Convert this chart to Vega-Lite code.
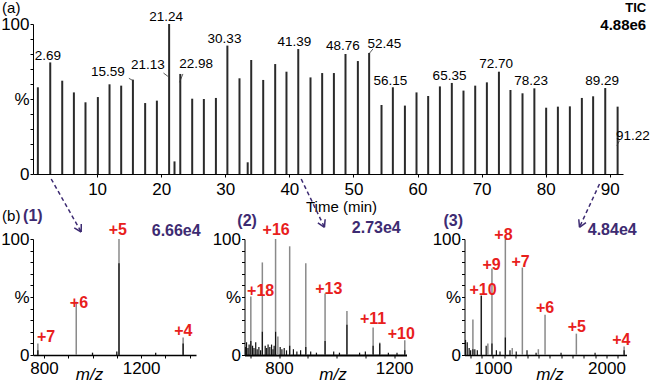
{
  "$schema": "https://vega.github.io/schema/vega-lite/v6.json",
  "padding": 0,
  "autosize": {"type": "pad"},
  "background": "white",
  "config": {
    "font": "Liberation Sans",
    "view": {"stroke": null},
    "axis": {"domainColor": "black", "tickColor": "black", "labelColor": "black", "titleColor": "black", "grid": false, "labelFont": "Liberation Sans", "titleFont": "Liberation Sans", "labelFlush": false, "labelBound": false}
  },
  "datasets": {
    "tic": [
      {"t": 0.76, "y": 57.8}, {"t": 2.69, "y": 74.4}, {"t": 4.56, "y": 62.2}, {"t": 6.38, "y": 54.4},
      {"t": 8.19, "y": 47.8}, {"t": 10.12, "y": 51.3}, {"t": 11.94, "y": 59.8}, {"t": 13.76, "y": 58.9},
      {"t": 15.59, "y": 62.9}, {"t": 17.5, "y": 47.3}, {"t": 19.33, "y": 48.9}, {"t": 21.24, "y": 100},
      {"t": 22.08, "y": 8.4}, {"t": 22.98, "y": 66.7}, {"t": 24.84, "y": 50.2}, {"t": 26.66, "y": 50.0},
      {"t": 28.54, "y": 50.7}, {"t": 30.33, "y": 85.6}, {"t": 32.22, "y": 63.8}, {"t": 33.5, "y": 7.8},
      {"t": 34.05, "y": 76.0}, {"t": 35.92, "y": 62.7}, {"t": 37.79, "y": 73.3}, {"t": 39.55, "y": 68.2},
      {"t": 41.39, "y": 83.3}, {"t": 43.3, "y": 64.4}, {"t": 45.12, "y": 67.3}, {"t": 46.95, "y": 67.3},
      {"t": 48.76, "y": 80.0}, {"t": 50.69, "y": 75.3}, {"t": 52.45, "y": 80.7}, {"t": 54.38, "y": 46.0},
      {"t": 56.15, "y": 57.8}, {"t": 58.03, "y": 45.6}, {"t": 59.84, "y": 54.4}, {"t": 61.66, "y": 52.0},
      {"t": 63.49, "y": 58.4}, {"t": 65.35, "y": 60.7}, {"t": 67.17, "y": 55.6}, {"t": 69.0, "y": 58.9},
      {"t": 70.82, "y": 61.1}, {"t": 72.7, "y": 68.2}, {"t": 74.5, "y": 56.0}, {"t": 76.38, "y": 53.8},
      {"t": 78.23, "y": 57.1}, {"t": 80.07, "y": 44.2}, {"t": 81.9, "y": 44.9}, {"t": 83.77, "y": 45.1},
      {"t": 85.64, "y": 50.7}, {"t": 87.4, "y": 51.8}, {"t": 89.29, "y": 57.3}, {"t": 91.22, "y": 44.9}
    ],
    "ticlabels": [
      {"t": 2.32, "y": 78.9, "label": "2.69"}, {"t": 11.69, "y": 67.8, "label": "15.59"},
      {"t": 17.93, "y": 72.7, "label": "21.13"}, {"t": 20.78, "y": 104.5, "label": "21.24"},
      {"t": 25.46, "y": 73.3, "label": "22.98"}, {"t": 29.88, "y": 90, "label": "30.33"},
      {"t": 40.8, "y": 88.2, "label": "41.39"}, {"t": 48.35, "y": 85.5, "label": "48.76"},
      {"t": 54.84, "y": 86.7, "label": "52.45"}, {"t": 55.78, "y": 62.2, "label": "56.15"},
      {"t": 64.99, "y": 65.5, "label": "65.35"}, {"t": 72.27, "y": 73.3, "label": "72.70"},
      {"t": 77.74, "y": 62.2, "label": "78.23"}, {"t": 88.82, "y": 62.2, "label": "89.29"},
      {"t": 93.6, "y": 25.5, "label": "91.22"}
    ],
    "leaders": [
      {"t": 14.96, "y": 63.8, "t2": 15.63, "y2": 62.2},
      {"t": 20.36, "y": 67.3, "t2": 21.05, "y2": 65.1},
      {"t": 23.39, "y": 66.7, "t2": 22.86, "y2": 61.1},
      {"t": 53.03, "y": 83.3, "t2": 52.5, "y2": 80.5},
      {"t": 91.51, "y": 22.2, "t2": 91.1, "y2": 18.9}
    ],
    "arrows": [
      {"t": 2.84, "y": -3.33, "t2": 7.52, "y2": -38.67},
      {"t": 41.85, "y": -3.33, "t2": 45.48, "y2": -35.53},
      {"t": 88.39, "y": -6.67, "t2": 85.27, "y2": -35.53}
    ],
    "heads": [
      {"t": 7.52, "y": -38.67, "t2": 7.53, "y2": -33.33},
      {"t": 7.52, "y": -38.67, "t2": 6.44, "y2": -35.93},
      {"t": 45.48, "y": -35.53, "t2": 45.58, "y2": -30.2},
      {"t": 45.48, "y": -35.53, "t2": 44.45, "y2": -32.53},
      {"t": 85.27, "y": -35.53, "t2": 86.28, "y2": -32.47},
      {"t": 85.27, "y": -35.53, "t2": 85.16, "y2": -30.2}
    ],
    "tictext": [
      {"t": -3.4, "y": 110.8, "label": "(a)"}
    ],
    "ticinfo": [
      {"t": 95.68, "y": 110.8, "label": "TIC", "size": 13},
      {"t": 95.68, "y": 99.3, "label": "4.88e6", "size": 15}
    ],
    "s1": [
      {"mz": 775, "h": 10}, {"mz": 933, "h": 46}, {"mz": 1109, "h": 100}, {"mz": 1373, "h": 15}
    ],
    "n1": [
      {"mz": 1109, "h": 79}, {"mz": 1373, "h": 10}, {"mz": 775, "h": 4}, {"mz": 1100, "h": 3}, {"mz": 1260, "h": 2}, {"mz": 1000, "h": 2}
    ],
    "l1": [
      {"mz": 809, "h": 15.9, "label": "+7"}, {"mz": 944, "h": 45.1, "label": "+6"},
      {"mz": 1104.5, "h": 107.9, "label": "+5"}, {"mz": 1374, "h": 20.9, "label": "+4"}
    ],
    "p1": [
      {"mz": 754.6, "h": 119.4, "label": "(1)"}, {"mz": 1344.5, "h": 107.2, "label": "6.66e4"}
    ],
    "b1": [
      {"mz": 665.3, "h": 119.4, "label": "(b)"}
    ],
    "s2": [
      {"mz": 702, "h": 50.4}, {"mz": 742, "h": 79.8}, {"mz": 788, "h": 100}, {"mz": 796, "h": 16},
      {"mz": 837, "h": 93.7}, {"mz": 893, "h": 79}, {"mz": 960, "h": 53}, {"mz": 1036, "h": 38},
      {"mz": 1127, "h": 23.6}, {"mz": 1150, "h": 10.7}, {"mz": 1237, "h": 12.7}
    ],
    "n2": [
      {"mz": 702, "h": 12}, {"mz": 742, "h": 20}, {"mz": 788, "h": 20}, {"mz": 837, "h": 8},
      {"mz": 893, "h": 7}, {"mz": 960, "h": 12}, {"mz": 1036, "h": 26}, {"mz": 1127, "h": 8},
      {"mz": 1150, "h": 10}, {"mz": 1237, "h": 4},
      {"mz": 684, "h": 7}, {"mz": 687, "h": 11}, {"mz": 692, "h": 6}, {"mz": 696, "h": 9},
      {"mz": 708, "h": 8}, {"mz": 713, "h": 6}, {"mz": 719, "h": 11}, {"mz": 724, "h": 5},
      {"mz": 730, "h": 7}, {"mz": 736, "h": 4}, {"mz": 752, "h": 8}, {"mz": 757, "h": 6},
      {"mz": 762, "h": 9}, {"mz": 768, "h": 7}, {"mz": 774, "h": 9}, {"mz": 779, "h": 5},
      {"mz": 783, "h": 8}, {"mz": 804, "h": 7}, {"mz": 810, "h": 5}, {"mz": 818, "h": 6},
      {"mz": 826, "h": 4}, {"mz": 850, "h": 5}, {"mz": 862, "h": 3}, {"mz": 875, "h": 4},
      {"mz": 910, "h": 3}, {"mz": 930, "h": 2}, {"mz": 990, "h": 3}, {"mz": 1010, "h": 2},
      {"mz": 1080, "h": 2}, {"mz": 1100, "h": 3}, {"mz": 1180, "h": 2}, {"mz": 1210, "h": 2}
    ],
    "l2": [
      {"mz": 790, "h": 107.5, "label": "+16"}, {"mz": 736, "h": 55.4, "label": "+18"},
      {"mz": 973, "h": 57.2, "label": "+13"}, {"mz": 1126.6, "h": 31.3, "label": "+11"},
      {"mz": 1225, "h": 18.5, "label": "+10"}
    ],
    "p2": [
      {"mz": 689, "h": 115.5, "label": "(2)"}, {"mz": 1138, "h": 109.5, "label": "2.73e4"}
    ],
    "s3": [
      {"mz": 823, "h": 30.6}, {"mz": 897, "h": 51.3}, {"mz": 991, "h": 74.5}, {"mz": 1109, "h": 100},
      {"mz": 1259, "h": 75.4}, {"mz": 1459, "h": 34.7}, {"mz": 1735, "h": 18.4}, {"mz": 2156, "h": 7.4},
      {"mz": 955, "h": 10}, {"mz": 1170, "h": 6}, {"mz": 1400, "h": 5}
    ],
    "n3": [
      {"mz": 758, "h": 13}, {"mz": 773, "h": 11}, {"mz": 790, "h": 6}, {"mz": 803, "h": 4},
      {"mz": 823, "h": 5}, {"mz": 840, "h": 5}, {"mz": 862, "h": 4}, {"mz": 897, "h": 51},
      {"mz": 940, "h": 8}, {"mz": 991, "h": 10}, {"mz": 1030, "h": 4}, {"mz": 1062, "h": 3},
      {"mz": 1109, "h": 15}, {"mz": 1150, "h": 4}, {"mz": 1205, "h": 3}, {"mz": 1300, "h": 4},
      {"mz": 1380, "h": 2}, {"mz": 1600, "h": 2}, {"mz": 1900, "h": 2}, {"mz": 2156, "h": 4}
    ],
    "l3": [
      {"mz": 1092, "h": 103.6, "label": "+8"}, {"mz": 987.6, "h": 77.8, "label": "+9"},
      {"mz": 1242.7, "h": 80.6, "label": "+7"}, {"mz": 911.7, "h": 56.2, "label": "+10"},
      {"mz": 1459, "h": 40.3, "label": "+6"}, {"mz": 1739.6, "h": 24.3, "label": "+5"},
      {"mz": 2132, "h": 13.1, "label": "+4"}
    ],
    "p3": [
      {"mz": 650.4, "h": 115.5, "label": "(3)"}, {"mz": 2051, "h": 107.8, "label": "4.84e4"}
    ]
  },
  "spacing": 65,
  "bounds": "flush",
  "vconcat": [
    {
      "width": 590,
      "height": 150,
      "encoding": {
        "x": {"field": "t", "type": "quantitative", "scale": {"domain": [0, 92.06], "nice": false, "zero": false},
          "axis": {"values": [10, 20, 30, 40, 50, 60, 70, 80, 90], "labelFontSize": 17, "tickSize": 3, "labelPadding": 4, "title": "Time (min)", "titleFontSize": 15, "titleFontWeight": "normal", "titleX": 308, "titleY": 37, "titleBaseline": "alphabetic", "titleAlign": "center", "labelOverlap": false}},
        "y": {"field": "y", "type": "quantitative", "scale": {"domain": [0, 100], "nice": false},
          "axis": {"values": [0, 10, 20, 30, 40, 50, 60, 70, 80, 90, 100], "labelExpr": "datum.value==100?'100':datum.value==50?'%':datum.value==0?'0':''", "labelFontSize": 17, "tickSize": 3, "labelPadding": 1, "labelOverlap": false, "title": null}}
      },
      "layer": [
        {
          "data": {"name": "tic"},
          "mark": {"type": "rule", "color": "#2a2a2a", "strokeWidth": 2},
          "encoding": {"y2": {"datum": 0}}
        },
        {
          "data": {"name": "ticlabels"},
          "mark": {"type": "text", "fontSize": 13.5, "color": "black", "align": "center", "baseline": "middle"},
          "encoding": {"text": {"field": "label"}}
        },
        {
          "data": {"name": "leaders"},
          "mark": {"type": "rule", "color": "#333333", "strokeWidth": 0.8},
          "encoding": {"x2": {"field": "t2"}, "y2": {"field": "y2"}}
        },
        {
          "data": {"name": "arrows"},
          "mark": {"type": "rule", "color": "#3d2b72", "strokeWidth": 1.5, "strokeDash": [4, 3]},
          "encoding": {"x2": {"field": "t2"}, "y2": {"field": "y2"}}
        },
        {
          "data": {"name": "heads"},
          "mark": {"type": "rule", "color": "#3d2b72", "strokeWidth": 1.5},
          "encoding": {"x2": {"field": "t2"}, "y2": {"field": "y2"}}
        },
        {
          "data": {"name": "tictext"},
          "mark": {"type": "text", "fontSize": 15, "color": "black", "align": "center", "baseline": "middle"},
          "encoding": {"text": {"field": "label"}}
        },
        {
          "data": {"name": "ticinfo"},
          "mark": {"type": "text", "fontWeight": "bold", "color": "black", "align": "right", "baseline": "middle"},
          "encoding": {"text": {"field": "label"}, "size": {"field": "size", "type": "quantitative", "scale": null}}
        }
      ]
    },
    {
      "spacing": 48.5,
      "bounds": "flush",
      "hconcat": [
        {
          "width": 163,
          "height": 116,
          "encoding": {
            "x": {"field": "mz", "type": "quantitative", "scale": {"domain": [755, 1426], "nice": false, "zero": false},
              "axis": {"values": [800, 900, 1000, 1100, 1200, 1300, 1400], "labelExpr": "datum.value==800||datum.value==1200?datum.label:''", "format": "d", "labelFontSize": 17, "tickSize": 3, "labelPadding": 2, "domainWidth": 1.5, "labelOverlap": false, "title": "m/z", "titleFontSize": 17, "titleFontStyle": "italic", "titleFontWeight": "normal", "titleX": 56, "titleY": 24, "titleBaseline": "alphabetic", "titleAlign": "center"}},
            "y": {"field": "h", "type": "quantitative", "scale": {"domain": [0, 100], "nice": false},
              "axis": {"values": [0, 10, 20, 30, 40, 50, 60, 70, 80, 90, 100], "labelExpr": "datum.value==100?'100':datum.value==50?'%':datum.value==0?'0':''", "labelFontSize": 17, "tickSize": 3, "labelPadding": 1, "labelOverlap": false, "title": null}}
          },
          "layer": [
            {"data": {"name": "s1"}, "mark": {"type": "rule", "color": "#8a8a8a", "strokeWidth": 1.5}, "encoding": {"y2": {"datum": 0}}},
            {"data": {"name": "n1"}, "mark": {"type": "rule", "color": "#111111", "strokeWidth": 1.3}, "encoding": {"y2": {"datum": 0}}},
            {"data": {"name": "l1"}, "mark": {"type": "text", "color": "#e8201c", "fontWeight": "bold", "fontSize": 16, "align": "center", "baseline": "middle"}, "encoding": {"text": {"field": "label"}}},
            {"data": {"name": "p1"}, "mark": {"type": "text", "color": "#3d2b72", "fontWeight": "bold", "fontSize": 16, "align": "center", "baseline": "middle"}, "encoding": {"text": {"field": "label"}}},
            {"data": {"name": "b1"}, "mark": {"type": "text", "color": "black", "fontSize": 15, "align": "center", "baseline": "middle"}, "encoding": {"text": {"field": "label"}}}
          ]
        },
        {
          "spacing": 58,
          "bounds": "flush",
          "hconcat": [
            {
              "width": 162,
              "height": 116,
              "encoding": {
                "x": {"field": "mz", "type": "quantitative", "scale": {"domain": [680, 1243], "nice": false, "zero": false},
                  "axis": {"values": [700, 800, 900, 1000, 1100, 1200], "labelExpr": "datum.value==800||datum.value==1200?datum.label:''", "format": "d", "labelFontSize": 17, "tickSize": 3, "labelPadding": 2, "domainWidth": 1.8, "labelOverlap": false, "title": "m/z", "titleFontSize": 17, "titleFontStyle": "italic", "titleFontWeight": "normal", "titleX": 88, "titleY": 24, "titleBaseline": "alphabetic", "titleAlign": "center"}},
                "y": {"field": "h", "type": "quantitative", "scale": {"domain": [0, 100], "nice": false},
                  "axis": {"values": [0, 10, 20, 30, 40, 50, 60, 70, 80, 90, 100], "labelExpr": "datum.value==100?'100':datum.value==50?'%':datum.value==0?'0':''", "labelFontSize": 17, "tickSize": 3, "labelPadding": 1, "labelOverlap": false, "title": null}}
              },
              "layer": [
                {"data": {"name": "s2"}, "mark": {"type": "rule", "color": "#8a8a8a", "strokeWidth": 1.5}, "encoding": {"y2": {"datum": 0}}},
                {"data": {"name": "n2"}, "mark": {"type": "rule", "color": "#111111", "strokeWidth": 1.2}, "encoding": {"y2": {"datum": 0}}},
                {"data": {"name": "l2"}, "mark": {"type": "text", "color": "#e8201c", "fontWeight": "bold", "fontSize": 16, "align": "center", "baseline": "middle"}, "encoding": {"text": {"field": "label"}}},
                {"data": {"name": "p2"}, "mark": {"type": "text", "color": "#3d2b72", "fontWeight": "bold", "fontSize": 16, "align": "center", "baseline": "middle"}, "encoding": {"text": {"field": "label"}}}
              ]
            },
            {
              "width": 162,
              "height": 116,
              "encoding": {
                "x": {"field": "mz", "type": "quantitative", "scale": {"domain": [749, 2177], "nice": false, "zero": false},
                  "axis": {"values": [800, 900, 1000, 1100, 1200, 1300, 1400, 1500, 1600, 1700, 1800, 1900, 2000, 2100], "labelExpr": "datum.value==1000||datum.value==2000?datum.label:''", "format": "d", "labelFontSize": 17, "tickSize": 3, "labelPadding": 2, "domainWidth": 1.5, "labelOverlap": false, "title": "m/z", "titleFontSize": 17, "titleFontStyle": "italic", "titleFontWeight": "normal", "titleX": 85, "titleY": 24, "titleBaseline": "alphabetic", "titleAlign": "center"}},
                "y": {"field": "h", "type": "quantitative", "scale": {"domain": [0, 100], "nice": false},
                  "axis": {"values": [0, 10, 20, 30, 40, 50, 60, 70, 80, 90, 100], "labelExpr": "datum.value==100?'100':datum.value==50?'%':datum.value==0?'0':''", "labelFontSize": 17, "tickSize": 3, "labelPadding": 1, "labelOverlap": false, "title": null}}
              },
              "layer": [
                {"data": {"name": "s3"}, "mark": {"type": "rule", "color": "#8a8a8a", "strokeWidth": 1.5}, "encoding": {"y2": {"datum": 0}}},
                {"data": {"name": "n3"}, "mark": {"type": "rule", "color": "#111111", "strokeWidth": 1.2}, "encoding": {"y2": {"datum": 0}}},
                {"data": {"name": "l3"}, "mark": {"type": "text", "color": "#e8201c", "fontWeight": "bold", "fontSize": 16, "align": "center", "baseline": "middle"}, "encoding": {"text": {"field": "label"}}},
                {"data": {"name": "p3"}, "mark": {"type": "text", "color": "#3d2b72", "fontWeight": "bold", "fontSize": 16, "align": "center", "baseline": "middle"}, "encoding": {"text": {"field": "label"}}}
              ]
            }
          ]
        }
      ]
    }
  ]
}
